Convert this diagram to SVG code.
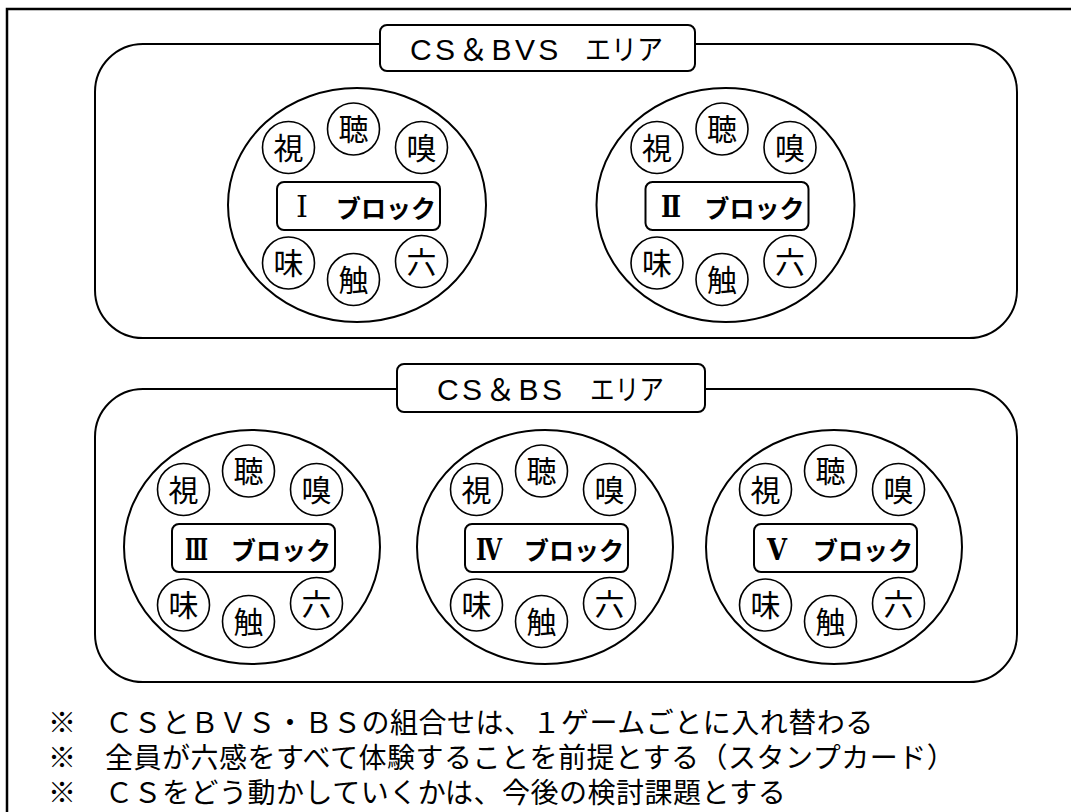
<svg xmlns="http://www.w3.org/2000/svg" width="1071" height="812" viewBox="0 0 1071 812">
<style>
.frame{fill:none;stroke:#000;stroke-width:2.5}
.area{fill:none;stroke:#000;stroke-width:2}
.lbl{fill:#fff;stroke:#000;stroke-width:2}
.blk{fill:#fff;stroke:#000;stroke-width:2}
.sense{fill:#fff;stroke:#000;stroke-width:1.6}
.atext{font-family:"Liberation Sans","Noto Sans CJK JP",sans-serif;font-size:30px;fill:#000;letter-spacing:3.3px}
.akata{font-family:"Noto Sans CJK JP",sans-serif;font-size:28px;fill:#000}
.num{font-family:"DejaVu Serif","Liberation Serif","Noto Sans CJK JP",serif;font-size:29px;font-weight:bold;fill:#000}
.num1{font-weight:normal}
.kata{font-family:"Noto Sans CJK JP",sans-serif;font-size:25px;font-weight:bold;fill:#000}
.st{font-family:"Noto Sans CJK JP",sans-serif;font-size:30px;fill:#000;text-anchor:middle}
.note{font-family:"Noto Sans CJK JP",sans-serif;font-size:28px;fill:#000;letter-spacing:0.5px}
</style>
<defs>
<g id="senses">
<circle class="sense" cx="-68.5" cy="-57.5" r="26"/><text class="st" x="-68.5" y="-46.5">視</text>
<circle class="sense" cx="-3.5" cy="-76" r="26"/><text class="st" x="-3.5" y="-65">聴</text>
<circle class="sense" cx="64.5" cy="-57.5" r="26"/><text class="st" x="64.5" y="-46.5">嗅</text>
<circle class="sense" cx="-68.5" cy="58" r="26"/><text class="st" x="-68.5" y="69">味</text>
<circle class="sense" cx="-3.5" cy="74.5" r="26"/><text class="st" x="-3.5" y="85.5">触</text>
<circle class="sense" cx="64.5" cy="56.5" r="26"/><text class="st" x="64.5" y="67.5">六</text>
</g>
</defs>
<rect class="frame" x="7" y="9" width="1080" height="830"/>

<g id="area-top">
<rect class="area" x="95" y="44" width="922" height="294" rx="48" ry="48"/>
<rect class="lbl" x="380" y="25" width="315" height="46" rx="7"/>
<text class="atext" x="410" y="60">CS＆BVS</text>
<text class="akata" x="585" y="60" textLength="78" lengthAdjust="spacingAndGlyphs">エリア</text>
</g>

<g id="block1" transform="translate(357,205)">
<ellipse class="blk" cx="0" cy="0" rx="129" ry="117"/>
<use href="#senses"/>
<rect class="blk" x="-80" y="-23" width="163" height="48" rx="7"/>
<text class="num num1" x="-61" y="11.5" textLength="12" lengthAdjust="spacingAndGlyphs">Ⅰ</text>
<text class="kata" x="-21" y="12.5">ブロック</text>
</g>

<g id="block2" transform="translate(725.5,205)">
<ellipse class="blk" cx="0" cy="0" rx="129" ry="117"/>
<use href="#senses"/>
<rect class="blk" x="-80" y="-23" width="163" height="48" rx="7"/>
<text class="num" x="-64.5" y="12" textLength="20" lengthAdjust="spacingAndGlyphs">Ⅱ</text>
<text class="kata" x="-21" y="12.5">ブロック</text>
</g>

<g id="area-bottom">
<rect class="area" x="95" y="389" width="922" height="293" rx="48" ry="48"/>
<rect class="lbl" x="397" y="364" width="308" height="48" rx="7"/>
<text class="atext" x="437" y="400">CS＆BS</text>
<text class="akata" x="590" y="400" textLength="74" lengthAdjust="spacingAndGlyphs">エリア</text>
</g>

<g id="block3" transform="translate(252,547)">
<ellipse class="blk" cx="0" cy="0" rx="128" ry="117"/>
<use href="#senses"/>
<rect class="blk" x="-80" y="-23" width="163" height="48" rx="7"/>
<text class="num" x="-67" y="12.5" textLength="23" lengthAdjust="spacingAndGlyphs">Ⅲ</text>
<text class="kata" x="-21" y="12.5">ブロック</text>
</g>

<g id="block4" transform="translate(545,547)">
<ellipse class="blk" cx="0" cy="0" rx="128" ry="117"/>
<use href="#senses"/>
<rect class="blk" x="-80" y="-23" width="163" height="48" rx="7"/>
<text class="num" x="-69" y="12.5" textLength="26" lengthAdjust="spacingAndGlyphs">Ⅳ</text>
<text class="kata" x="-21" y="12.5">ブロック</text>
</g>

<g id="block5" transform="translate(834,547)">
<ellipse class="blk" cx="0" cy="0" rx="128" ry="117"/>
<use href="#senses"/>
<rect class="blk" x="-80" y="-23" width="163" height="48" rx="7"/>
<text class="num" x="-67" y="12.5" textLength="20" lengthAdjust="spacingAndGlyphs">Ⅴ</text>
<text class="kata" x="-21" y="12.5">ブロック</text>
</g>

<g id="connectors"></g>

<g id="notes">
<text class="note" x="48" y="733">※　ＣＳとＢＶＳ・ＢＳの組合せは、１ゲームごとに入れ替わる</text>
<text class="note" x="48" y="768">※　全員が六感をすべて体験することを前提とする（スタンプカード）</text>
<text class="note" x="48" y="803">※　ＣＳをどう動かしていくかは、今後の検討課題とする</text>
</g>
</svg>
